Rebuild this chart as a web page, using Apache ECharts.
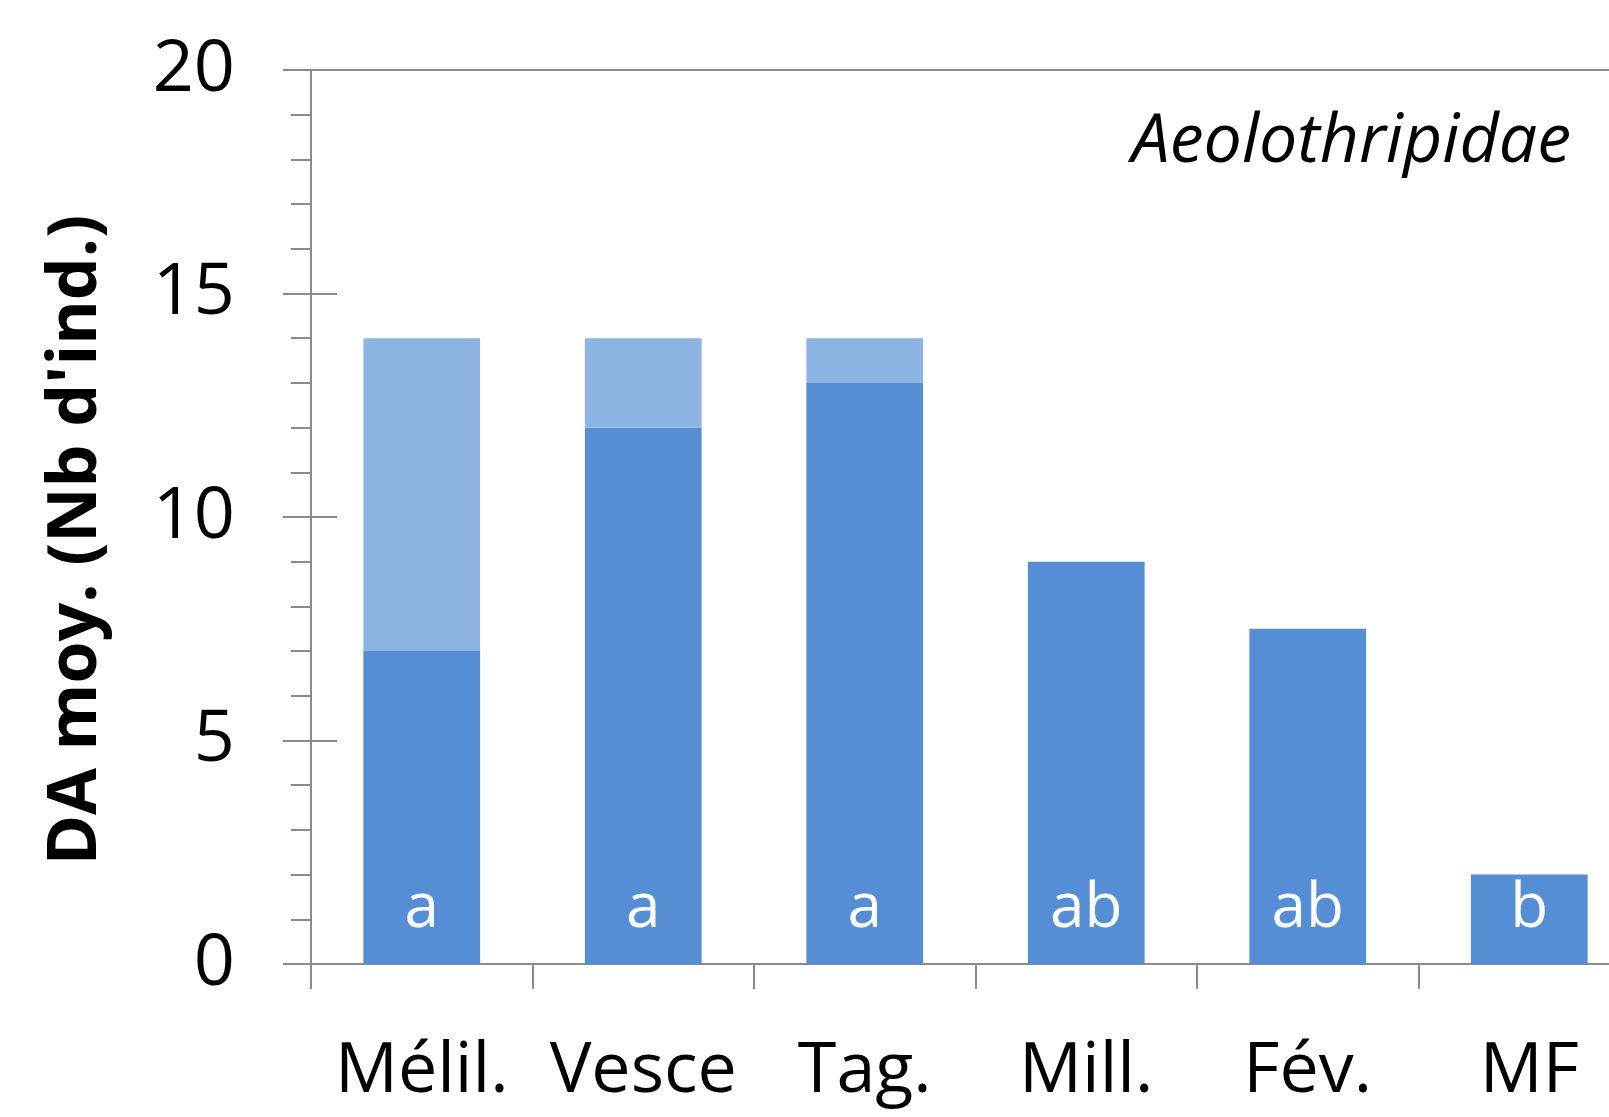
<!DOCTYPE html>
<html>
<head>
<meta charset="utf-8">
<script src="https://cdn.jsdelivr.net/npm/echarts@6/dist/echarts.min.js"></script>
<style>
html,body{margin:0;padding:0;background:#fff;overflow:hidden;width:1609px;height:1117px;}
#chart{width:1660px;height:1117px;}
</style>
</head>
<body>
<div id="chart"></div>
<script>
const categories = ['Mélil.', 'Vesce', 'Tag.', 'Mill.', 'Fév.', 'MF'];
const darkValues = [7, 12, 13, 9, 7.5, 2];
const lightValues = [7, 2, 1, 0, 0, 0];
const letters = ['a', 'a', 'a', 'ab', 'ab', 'b'];
const yTitle = "DA moy. (Nb d'ind.)";
const familyLabel = 'Aeolothripidae';

const FONT = '"Open Sans", "Noto Sans", sans-serif';
const AXIS = '#8a8a8a';

const chart = echarts.init(document.getElementById('chart'), null, {renderer: 'canvas'});
chart.setOption({
  backgroundColor: '#ffffff',
  animation: false,
  grid: {left: 311, top: 70, width: 1329, height: 894, containLabel: false},
  xAxis: [{
    type: 'category',
    data: categories,
    position: 'bottom',
    boundaryGap: true,
    axisLine: {show: true, lineStyle: {color: AXIS, width: 2}},
    axisTick: {show: true, alignWithLabel: false, length: 25, lineStyle: {color: AXIS, width: 2}},
    axisLabel: {show: true, margin: 73, color: '#000', fontFamily: FONT, fontSize: 70, interval: 0},
    splitLine: {show: false}
  }, {
    type: 'category',
    data: categories,
    position: 'top',
    axisLine: {show: true, onZero: false, lineStyle: {color: AXIS, width: 2}},
    axisTick: {show: false},
    axisLabel: {show: false},
    splitLine: {show: false}
  }],
  yAxis: [{
    type: 'value',
    min: 0, max: 20, interval: 5,
    position: 'left',
    axisLine: {show: true, lineStyle: {color: AXIS, width: 2}},
    axisTick: {show: true, inside: false, length: 28, lineStyle: {color: AXIS, width: 2}},
    minorTick: {show: true, splitNumber: 5, length: 20, lineStyle: {color: AXIS, width: 2}},
    axisLabel: {show: true, margin: 76, color: '#000', fontFamily: FONT, fontSize: 72, padding: [6, 0, 0, 0]},
    splitLine: {show: false}
  }, {
    type: 'value',
    min: 0, max: 20, interval: 5,
    position: 'left',
    offset: 0,
    axisLine: {show: false},
    axisTick: {show: true, inside: true, length: 26, lineStyle: {color: AXIS, width: 2}},
    axisLabel: {show: false},
    splitLine: {show: false}
  }],
  series: [{
    type: 'bar',
    name: 'dark',
    stack: 'total',
    xAxisIndex: 0, yAxisIndex: 0,
    data: darkValues,
    barWidth: '52.7%',
    itemStyle: {color: '#558ED5'},
    label: {
      show: true,
      position: 'insideBottom',
      distance: 24,
      color: '#ffffff',
      fontFamily: FONT,
      fontSize: 62,
      formatter: p => letters[p.dataIndex]
    }
  }, {
    type: 'bar',
    name: 'light',
    stack: 'total',
    xAxisIndex: 0, yAxisIndex: 0,
    data: lightValues,
    barWidth: '52.7%',
    itemStyle: {color: '#8EB4E3'}
  }],
  graphic: [{
    type: 'text',
    x: 77, y: 540,
    rotation: Math.PI / 2,
    style: {
      text: yTitle,
      font: 'bold 68px ' + FONT,
      fill: '#000',
      textAlign: 'center',
      textVerticalAlign: 'middle'
    }
  }, {
    type: 'text',
    x: 1571, y: 143,
    style: {
      text: familyLabel,
      font: 'italic 68px ' + FONT,
      fill: '#000',
      textAlign: 'right',
      textVerticalAlign: 'middle'
    }
  }]
});
</script>
</body>
</html>
